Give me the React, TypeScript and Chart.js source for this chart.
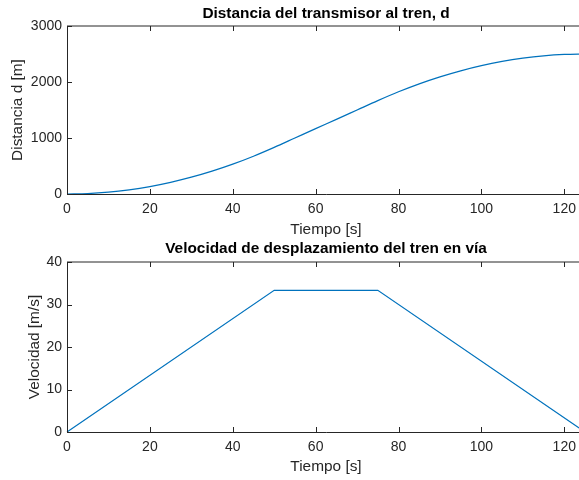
import React, { useEffect, useRef } from "react";
import { Chart, registerables } from "chart.js";

Chart.register(...registerables);

// ---- Data ----
const timeS = [0, 5, 10, 15, 20, 25, 30, 35, 40, 45, 50, 55, 60, 65, 70, 75, 80, 85, 90, 95, 100, 105, 110, 115, 120, 125];
const distanceM = [0, 8, 33, 75, 133, 208, 300, 408, 533, 675, 833, 1000, 1167, 1333, 1500, 1667, 1825, 1967, 2092, 2200, 2292, 2367, 2425, 2467, 2492, 2500];

const velTimeS = [0, 50, 75, 125];
const velocityMS = [0, 33.33, 33.33, 0];

const xTicks = [0, 20, 40, 60, 80, 100, 120];
const distTicks = [0, 1000, 2000, 3000];
const velTicks = [0, 10, 20, 30, 40];

const title1 = "Distancia del transmisor al tren, d";
const title2 = "Velocidad de desplazamiento del tren en vía";
const xLabel = "Tiempo [s]";
const yLabel1 = "Distancia d [m]";
const yLabel2 = "Velocidad [m/s]";

const FONT = "'Liberation Sans', Arial, Helvetica, sans-serif";
const AXIS = "#262626";
const LINE = "#0072BD";

function matlabPlugin(title: string, titleY: number) {
  return {
    id: "matlabAxes",
    afterDraw(chart: any) {
      const { ctx, chartArea: a, scales } = chart;
      const xs = scales.x;
      const ys = scales.y;
      ctx.save();
      ctx.strokeStyle = AXIS;
      ctx.lineWidth = 1;
      // top box line
      ctx.beginPath();
      ctx.moveTo(a.left, a.top);
      ctx.lineTo(a.right, a.top);
      ctx.stroke();
      // right box line
      ctx.beginPath();
      ctx.moveTo(a.right + 0.5, a.top);
      ctx.lineTo(a.right + 0.5, a.bottom);
      ctx.stroke();
      // left & bottom axes
      ctx.beginPath();
      ctx.moveTo(a.left + 0.5, a.top);
      ctx.lineTo(a.left + 0.5, a.bottom + 0.5);
      ctx.lineTo(a.right, a.bottom + 0.5);
      ctx.stroke();
      // inward ticks
      const tl = 5;
      ctx.beginPath();
      for (const t of xs.ticks) {
        const px = Math.round(xs.getPixelForValue(t.value)) + 0.5;
        ctx.moveTo(px, a.bottom);
        ctx.lineTo(px, a.bottom - tl);
        ctx.moveTo(px, a.top);
        ctx.lineTo(px, a.top + tl);
      }
      for (const t of ys.ticks) {
        const py = Math.round(ys.getPixelForValue(t.value)) + 0.5;
        ctx.moveTo(a.left, py);
        ctx.lineTo(a.left + tl, py);
        ctx.moveTo(a.right, py);
        ctx.lineTo(a.right - tl, py);
      }
      ctx.stroke();
      // title
      ctx.fillStyle = "#000";
      ctx.font = `bold 15.4px ${FONT}`;
      ctx.textAlign = "center";
      ctx.textBaseline = "middle";
      ctx.fillText(title, (a.left + a.right) / 2, titleY);
      ctx.restore();
    },
  };
}

function makeConfig(opts: {
  xs: number[];
  ys: number[];
  yTicks: number[];
  yMax: number;
  yLabel: string;
  yTitlePad: number;
  xTitlePadBottom: number;
  padTop: number;
  xHeight: number;
  monotone: boolean;
  title: string;
  titleY: number;
}) {
  const tickFont = { family: FONT, size: 14 };
  const labelFont = { family: FONT, size: 15.4 };
  const plain = (v: any) => String(v);
  return {
    type: "line" as const,
    data: {
      datasets: [
        {
          data: opts.xs.map((x, i) => ({ x, y: opts.ys[i] })),
          borderColor: LINE,
          borderWidth: 1.2,
          pointRadius: 0,
          fill: false,
          clip: false,
          cubicInterpolationMode: opts.monotone ? ("monotone" as const) : ("default" as const),
          tension: 0,
        },
      ],
    },
    options: {
      responsive: false,
      animation: false as const,
      layout: { padding: { top: opts.padTop, right: 15, bottom: 0, left: 0 } },
      plugins: { legend: { display: false }, tooltip: { enabled: false }, title: { display: false } },
      scales: {
        x: {
          type: "linear" as const,
          min: 0,
          max: 125,
          afterBuildTicks: (s: any) => {
            s.ticks = xTicks.map((v) => ({ value: v }));
          },
          afterFit: (s: any) => {
            s.height = opts.xHeight;
          },
          grid: { display: false, drawTicks: false },
          border: { display: false },
          ticks: { color: AXIS, font: tickFont, padding: 7, maxRotation: 0, callback: plain },
          title: {
            display: true,
            text: xLabel,
            color: AXIS,
            font: labelFont,
            padding: { top: 0, bottom: opts.xTitlePadBottom },
          },
        },
        y: {
          type: "linear" as const,
          min: 0,
          max: opts.yMax,
          afterBuildTicks: (s: any) => {
            s.ticks = opts.yTicks.map((v) => ({ value: v }));
          },
          afterFit: (s: any) => {
            s.width = 67;
          },
          grid: { display: false, drawTicks: false },
          border: { display: false },
          ticks: { color: AXIS, font: tickFont, padding: 5, callback: plain },
          title: {
            display: true,
            text: opts.yLabel,
            color: AXIS,
            font: labelFont,
            padding: { top: opts.yTitlePad, bottom: 0 },
          },
        },
      },
    },
    plugins: [matlabPlugin(opts.title, opts.titleY)],
  };
}

function ChartCanvas({ config, top }: { config: any; top: number }) {
  const ref = useRef<HTMLCanvasElement | null>(null);
  useEffect(() => {
    if (!ref.current) return;
    const chart = new Chart(ref.current, config);
    return () => chart.destroy();
  }, [config]);
  return (
    <canvas
      ref={ref}
      width={600}
      height={240}
      style={{ position: "absolute", left: 0, top, width: 600, height: 240, display: "block" }}
    />
  );
}

const config1 = makeConfig({
  xs: timeS,
  ys: distanceM,
  yTicks: distTicks,
  yMax: 3000,
  yLabel: yLabel1,
  yTitlePad: 9,
  xTitlePadBottom: 1,
  padTop: 26,
  xHeight: 46,
  monotone: true,
  title: title1,
  titleY: 14,
});

const config2 = makeConfig({
  xs: velTimeS,
  ys: velocityMS,
  yTicks: velTicks,
  yMax: 40,
  yLabel: yLabel2,
  yTitlePad: 26,
  xTitlePadBottom: 4,
  padTop: 22,
  xHeight: 48,
  monotone: false,
  title: title2,
  titleY: 9,
});

export default function App() {
  return (
    <div
      style={{
        position: "fixed",
        left: 0,
        top: 0,
        width: 579,
        height: 480,
        overflow: "hidden",
        background: "#fff",
      }}
    >
      <ChartCanvas config={config1} top={0} />
      <ChartCanvas config={config2} top={240} />
    </div>
  );
}
